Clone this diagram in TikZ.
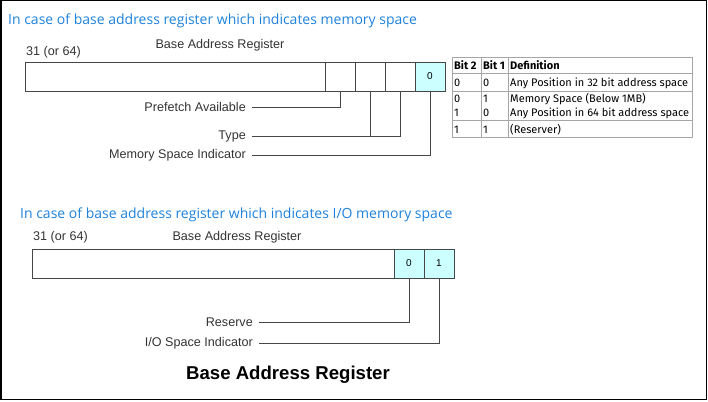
\documentclass[tikz,border=0pt]{standalone}
\usepackage{fontspec}
\setmainfont{Liberation Sans}
\newfontfamily\titlefont{Open Sans}
\newfontfamily\tabfont{Fira Sans}
\usetikzlibrary{positioning}
\definecolor{titleblue}{RGB}{30,130,220}
\definecolor{cellcyan}{RGB}{204,255,255}
\definecolor{linegray}{RGB}{70,70,70}
\tikzset{
  regcell/.style={
    draw=linegray,
    minimum height=29pt,
    minimum width=30pt,
    inner sep=0pt, outer sep=0pt,
    font=\fontsize{10}{12}\selectfont},
  bitcell/.style={regcell, fill=cellcyan},
  caption/.style={font=\titlefont\fontsize{14}{16}\selectfont,
    text=titleblue, anchor=west, inner sep=0pt},
  reglabel/.style={font=\fontsize{12.6}{14}\selectfont, text=black!80, inner sep=0pt},
  leadlabel/.style={reglabel, anchor=east, inner xsep=6pt},
  lead/.style={draw=linegray, thick},
  tabtext/.style={font=\tabfont\fontsize{11}{12}\selectfont, anchor=west, inner sep=0pt},
  tabhead/.style={tabtext, font=\tabfont\bfseries\fontsize{11}{12}\selectfont},
  tabrule/.style={draw=gray!70, line width=0.6pt},
}
\begin{document}
\begin{tikzpicture}[x=1pt,y=-1pt]
  \useasboundingbox (0,0) rectangle (708,401);
  \draw[line width=1.5pt] (0.75,0.75) rectangle (706.5,399.5);

  % memory space
  \node[caption] (memtitle) at (8,21) {In case of base address register which indicates memory space};
  \node[reglabel, anchor=west] (mwidth) at (26,52) {31 (or 64)};
  \node[reglabel] (mname) at (220,45) {Base Address Register};
  \node[regcell, minimum width=300pt, anchor=north west] (mbar) at (25,62) {};
  \node[regcell, right=0pt of mbar] (mb3) {};
  \node[regcell, right=0pt of mb3] (mb2) {};
  \node[regcell, right=0pt of mb2] (mb1) {};
  \node[bitcell, right=0pt of mb1] (mb0) {0};
  \node[leadlabel] (pflbl) at (252,107) {Prefetch Available};
  \node[leadlabel] (typelbl) at (252,136) {Type};
  \node[leadlabel] (msilbl) at (252,155) {Memory Space Indicator};
  \draw[lead] (mb3.south) |- (pflbl.east);
  \draw[lead] (mb2.south) |- (typelbl.east);
  \draw[lead] (mb1.south) |- (typelbl.east);
  \draw[lead] (mb0.south) |- (msilbl.east);

  % type table
  \draw[tabrule] (452,57) rectangle (692,137);
  \foreach \y in {73,91,120}
    \draw[tabrule] (452,\y) -- (692,\y);
  \foreach \x in {481,508}
    \draw[tabrule] (\x,57) -- (\x,137);
  \node[tabhead] (hbit2) at (454,65) {Bit 2};
  \node[tabhead] (hbit1) at (483,65) {Bit 1};
  \node[tabhead] (hdef) at (510,65) {Definition};
  \foreach \y/\a/\b/\d in {83/0/0/Any Position in 32 bit address space,
      99/0/1/Memory Space (Below 1MB),
      113/1/0/Any Position in 64 bit address space,
      130/1/1/(Reserver)}{
    \node[tabtext] (bit2\y) at (454,\y) {\a};
    \node[tabtext] (bit1\y) at (483,\y) {\b};
    \node[tabtext] (def\y) at (510,\y) {\d};
  }

  % I/O space
  \node[caption] (iotitle) at (20,215) {In case of base address register which indicates I/O memory space};
  \node[reglabel, anchor=west] (iwidth) at (33,237) {31 (or 64)};
  \node[reglabel] (iname) at (237,237) {Base Address Register};
  \node[regcell, minimum width=362pt, anchor=north west] (ibar) at (32,249) {};
  \node[bitcell, right=0pt of ibar] (ib1) {0};
  \node[bitcell, right=0pt of ib1] (ib0) {1};
  \node[leadlabel] (reslbl) at (259,322) {Reserve};
  \node[leadlabel] (iosilbl) at (259,343) {I/O Space Indicator};
  \draw[lead] (ib1.south) |- (reslbl.east);
  \draw[lead] (ib0.south) |- (iosilbl.east);

  \node[font=\bfseries\fontsize{18.6}{22}\selectfont] (figcap) at (288,375) {Base Address Register};
\end{tikzpicture}
\end{document}
